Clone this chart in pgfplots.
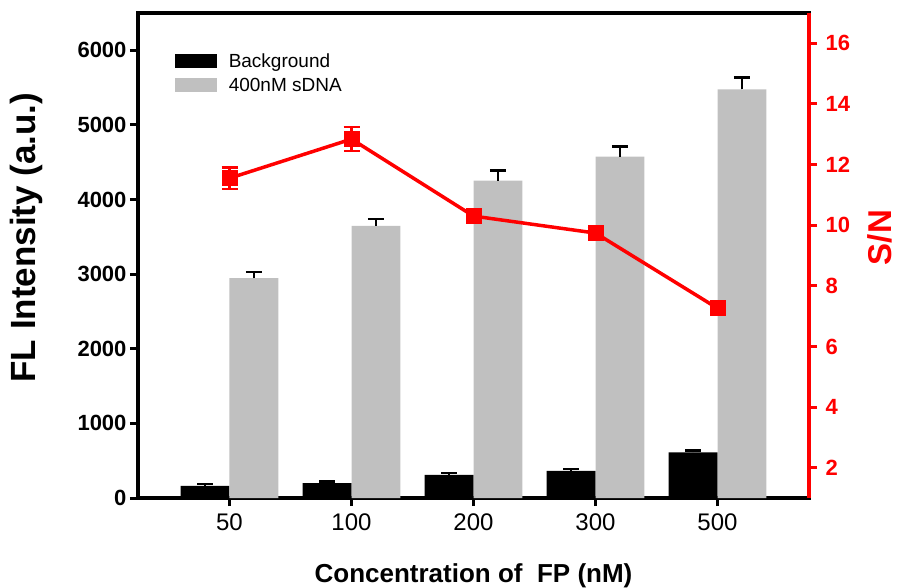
\documentclass[border=0pt]{standalone}
\usepackage{fontspec}
\setmainfont{Liberation Sans}
\usepackage{pgfplots}
\usepackage{pgfplotstable}
\pgfplotsset{compat=1.18}
\definecolor{snred}{RGB}{255,0,0}
\definecolor{bargray}{RGB}{192,192,192}
% bar centres: category index -0.2 (background) and +0.2 (400nM sDNA)
\pgfplotstableread{
x y e
-0.2 161 27
0.8 198 21
1.8 310 26
2.8 363 23
3.8 610 27
}\background
\pgfplotstableread{
x y e
0.2 2947 81
1.2 3647 94
2.2 4253 135
3.2 4576 135
4.2 5478 161
}\sdna
\pgfplotstableread{
x y e
0 11.55 0.35
1 12.84 0.40
2 10.30 0.15
3 9.74 0.15
4 7.26 0.10
}\sn
\begin{document}
\begin{tikzpicture}
\useasboundingbox (-138pt,-89pt) rectangle (763pt,498pt);
\begin{axis}[
  at={(0pt,0pt)}, anchor=south west,
  scale only axis, width=671pt, height=485pt,
  xmin=-0.75, xmax=4.75, ymin=0, ymax=6500,
  xtick={0,1,2,3,4}, xticklabels={50,100,200,300,500},
  ytick={0,1000,...,6000},
  tick pos=left, tick align=outside,
  major tick length=8pt,
  every tick/.style={black, line width=3pt},
  axis line style={line width=3.5pt},
  /pgf/number format/assume math mode=true,
  /pgf/number format/1000 sep={},
  scaled y ticks=false,
  yticklabel style={font=\fontsize{22}{22}\selectfont\bfseries},
  xticklabel style={font=\fontsize{24}{24}\selectfont, yshift=-4pt},
  xlabel={Concentration of\ \ FP (nM)},
  xlabel style={font=\fontsize{26}{26}\selectfont\bfseries, at={(axis description cs:0.5,-0.16)}, anchor=center},
  ylabel={FL Intensity (a.u.)},
  ylabel style={font=\fontsize{35}{35}\selectfont\bfseries, at={(axis description cs:-0.166,0.537)}, anchor=center},
  legend entries={Background, 400nM sDNA},
  legend cell align=left,
  legend style={draw=none, fill=none, at={(axis description cs:0.05,0.925)}, anchor=north west,
    font=\fontsize{19}{19}\selectfont, row sep=5pt},
  legend image code/.code={\draw[#1,/tikz/.cd,draw=none] (0pt,-7pt) rectangle (42pt,7pt); \path (52pt,0pt);},
]
\addplot[ybar, bar width=0.4, bar shift=0pt, fill=black, draw=none,
  error bars/.cd, y dir=plus, y explicit,
  error bar style={line width=2.5pt, black},
  error mark options={rotate=90, mark size=8pt, line width=2.5pt, black}]
  table[x=x, y=y, y error=e] {\background};
\addplot[ybar, bar width=0.4, bar shift=0pt, fill=bargray, draw=none,
  error bars/.cd, y dir=plus, y explicit,
  error bar style={line width=2.5pt, black},
  error mark options={rotate=90, mark size=8pt, line width=2.5pt, black}]
  table[x=x, y=y, y error=e] {\sdna};
\end{axis}
\begin{axis}[
  at={(0pt,0pt)}, anchor=south west,
  scale only axis, width=671pt, height=485pt,
  xmin=-0.75, xmax=4.75, ymin=1, ymax=17,
  axis x line=none, axis y line*=right,
  ytick={2,4,...,16},
  tick align=outside, major tick length=8pt,
  y axis line style={-, snred, line width=3.5pt},
  every tick/.style={snred, line width=3pt},
  /pgf/number format/assume math mode=true,
  yticklabel style={text=snred, font=\fontsize{22}{22}\selectfont\bfseries, xshift=5pt},
  ylabel={S/N},
  ylabel style={text=snred, font=\fontsize{33}{33}\selectfont\bfseries, at={(axis description cs:1.105,0.537)}, anchor=center},
]
\addplot[snred, line width=3.5pt, mark=square*, mark size=7.5pt, mark options={solid, line width=1pt, fill=snred},
  error bars/.cd, y dir=both, y explicit,
  error bar style={line width=2.5pt, snred},
  error mark options={rotate=90, mark size=8pt, line width=2.5pt, snred}]
  table[x=x, y=y, y error=e] {\sn};
\end{axis}
\end{tikzpicture}
\end{document}
